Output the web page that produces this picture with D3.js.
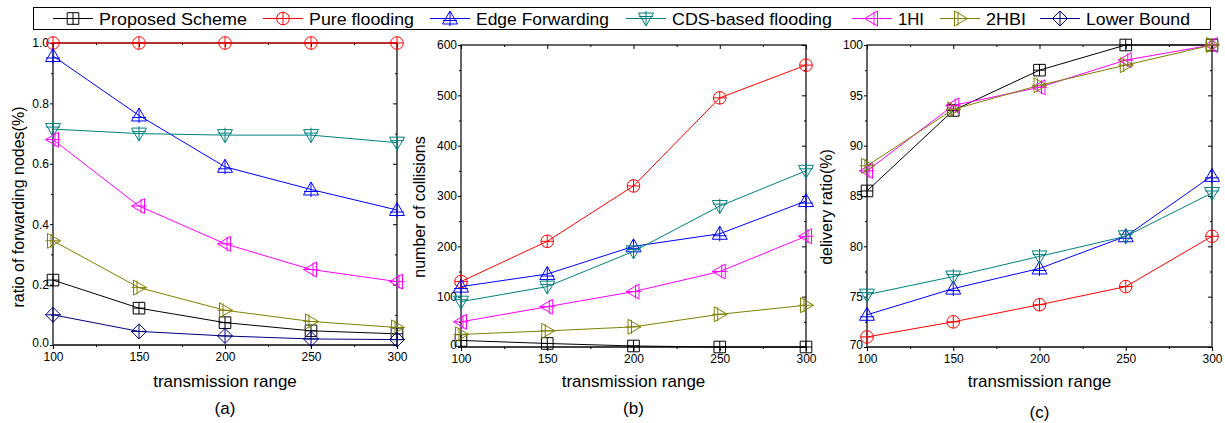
<!DOCTYPE html>
<html>
<head>
<meta charset="utf-8">
<script src="https://d3js.org/d3.v7.min.js"></script>
<style>
  body { margin: 0; background: #fff; }
  text { font-family: Arial, "Liberation Sans", sans-serif; }
</style>
</head>
<body>
<script>
// transmission range (x axis shared by all panels)
var ranges = [100, 150, 200, 250, 300];

var seriesNames = ['Proposed Scheme', 'Pure flooding', 'Edge Forwarding', 'CDS-based flooding', '1HI', '2HBI', 'Lower Bound'];
var seriesColors = ['#000000', '#ff0000', '#0000ff', '#008080', '#ff00ff', '#808000', '#000080'];
var seriesMarkers = ['square', 'circle', 'up', 'down', 'left', 'right', 'diamond'];

// (a) ratio of forwarding nodes
var ratioProposed = [0.215, 0.122, 0.074, 0.047, 0.037];
var ratioPure = [1.0, 1.0, 1.0, 1.0, 1.0];
var ratioEdge = [0.957, 0.76, 0.59, 0.515, 0.447];
var ratioCDS = [0.715, 0.70, 0.695, 0.695, 0.67];
var ratio1HI = [0.68, 0.46, 0.335, 0.25, 0.21];
var ratio2HBI = [0.345, 0.19, 0.115, 0.078, 0.058];
var ratioLower = [0.10, 0.045, 0.03, 0.02, 0.018];

// (b) number of collisions
var collProposed = [13, 7, 2, 0, 0];
var collPure = [130, 210, 320, 495, 560];
var collEdge = [120, 145, 200, 225, 290];
var collCDS = [90, 120, 190, 280, 350];
var coll1HI = [50, 80, 110, 150, 220];
var coll2HBI = [25, 32, 40, 65, 83];

// (c) delivery ratio
var delivProposed = [85.5, 93.5, 97.5, 100, 100];
var delivPure = [71, 72.5, 74.2, 76, 81];
var delivEdge = [73.2, 75.8, 77.8, 81, 87];
var delivCDS = [75.2, 77, 79, 81, 85.3];
var deliv1HI = [87.5, 94, 95.8, 98.5, 100];
var deliv2HBI = [88, 93.6, 96, 98, 100];

var panels = [
  { left: 53, right: 397, top: 43, bottom: 345, yDomain: [0, 1], yTicks: [0, 0.2, 0.4, 0.6, 0.8, 1.0], yMinor: [0.1, 0.3, 0.5, 0.7, 0.9],
    fmt: d3.format('.1f'), yTitle: 'ratio of forwarding nodes(%)', yTitleX: 18, tag: '(a)', tagY: 408,
    series: [ratioProposed, ratioPure, ratioEdge, ratioCDS, ratio1HI, ratio2HBI, ratioLower] },
  { left: 461, right: 806, top: 45, bottom: 347, yDomain: [0, 600], yTicks: [0, 100, 200, 300, 400, 500, 600], yMinor: [50, 150, 250, 350, 450, 550],
    fmt: d3.format('d'), yTitle: 'number of collisions', yTitleX: 419, tag: '(b)', tagY: 408,
    series: [collProposed, collPure, collEdge, collCDS, coll1HI, coll2HBI, null] },
  { left: 867, right: 1212, top: 45, bottom: 347, yDomain: [70, 100], yTicks: [70, 75, 80, 85, 90, 95, 100], yMinor: [72.5, 77.5, 82.5, 87.5, 92.5, 97.5],
    fmt: d3.format('d'), yTitle: 'delivery ratio(%)', yTitleX: 826, tag: '(c)', tagY: 412,
    series: [delivProposed, delivPure, delivEdge, delivCDS, deliv1HI, deliv2HBI, null] }
];

var svg = d3.select('body').append('svg').attr('width', 1225).attr('height', 423);

function markerPath(type) {
  switch (type) {
    case 'square': return 'M-5.8,-5.8H5.8V5.8H-5.8Z M0,-5.8V5.8 M-5.8,0H5.8';
    case 'circle': return 'M-6.3,0A6.3,6.3 0 1,0 6.3,0A6.3,6.3 0 1,0 -6.3,0Z M0,-6.3V6.3 M-6.3,0H6.3';
    case 'up': return 'M0,-7.5L7.5,5.5H-7.5Z M0,-7.5V7.5 M-7,2H7';
    case 'down': return 'M0,7.5L7.5,-5.5H-7.5Z M0,-7.5V7.5 M-7,-2H7';
    case 'left': return 'M-7.5,0L5.5,-7.5V7.5Z M-7.5,0H7.5 M2,-7V7';
    case 'right': return 'M7.5,0L-5.5,-7.5V7.5Z M-7.5,0H7.5 M-2,-7V7';
    case 'diamond': return 'M0,-7.5L7.5,0L0,7.5L-7.5,0Z M0,-7.5V7.5 M-7.5,0H7.5';
  }
  return '';
}

panels.forEach(function (p) {
  var x = d3.scaleLinear().domain([100, 300]).range([p.left, p.right]);
  var y = d3.scaleLinear().domain(p.yDomain).range([p.bottom, p.top]);
  var g = svg.append('g');

  // frame
  g.append('rect').attr('x', p.left).attr('y', p.top).attr('width', p.right - p.left).attr('height', p.bottom - p.top)
    .attr('fill', 'none').attr('stroke', '#000').attr('stroke-width', 1.2);
  g.append('line').attr('x1', p.left).attr('x2', p.right).attr('y1', p.bottom).attr('y2', p.bottom)
    .attr('stroke', '#444').attr('stroke-width', 1.8);

  var xMinor = [125, 175, 225, 275];

  // bottom axis (outward ticks)
  g.append('g').attr('transform', 'translate(0,' + p.bottom + ')')
    .call(d3.axisBottom(x).tickValues(ranges).tickSize(4).tickPadding(3).tickFormat(d3.format('d')));
  g.append('g').attr('transform', 'translate(0,' + p.bottom + ')')
    .call(d3.axisBottom(x).tickValues(xMinor).tickSize(2).tickFormat(''));
  // left axis (outward ticks)
  g.append('g').attr('class', 'yax').attr('transform', 'translate(' + p.left + ',0)')
    .call(d3.axisLeft(y).tickValues(p.yTicks).tickSize(3).tickPadding(1).tickFormat(p.fmt));
  g.append('g').attr('transform', 'translate(' + p.left + ',0)')
    .call(d3.axisLeft(y).tickValues(p.yMinor).tickSize(2).tickFormat(''));
  // top and right (inward ticks)
  g.append('g').attr('transform', 'translate(0,' + p.top + ')')
    .call(d3.axisTop(x).tickValues(ranges).tickSize(-4).tickFormat(''));
  g.append('g').attr('transform', 'translate(0,' + p.top + ')')
    .call(d3.axisTop(x).tickValues(xMinor).tickSize(-2).tickFormat(''));
  g.append('g').attr('transform', 'translate(' + p.right + ',0)')
    .call(d3.axisRight(y).tickValues(p.yTicks).tickSize(-4).tickFormat(''));
  g.append('g').attr('transform', 'translate(' + p.right + ',0)')
    .call(d3.axisRight(y).tickValues(p.yMinor).tickSize(-2).tickFormat(''));

  g.selectAll('.domain').remove();
  g.selectAll('.tick line').attr('stroke', '#000');
  g.selectAll('.tick text').attr('font-size', 12).attr('fill', '#000')
    .style('font-family', 'Arial, "Liberation Sans", sans-serif');
  // lift the bottom y label a little so it clears the x labels
  g.selectAll('.yax .tick text').filter(function (d) { return d === p.yDomain[0]; }).attr('dy', '0.1em');

  // titles
  g.append('text').attr('x', (p.left + p.right) / 2).attr('y', 381).attr('dy', '0.35em').attr('text-anchor', 'middle')
    .attr('font-size', 17).text('transmission range');
  g.append('text').attr('transform', 'translate(' + p.yTitleX + ',207) rotate(-90)')
    .attr('dy', '0.35em').attr('text-anchor', 'middle').attr('font-size', 16).text(p.yTitle);
  g.append('text').attr('x', (p.left + p.right) / 2).attr('y', p.tagY).attr('text-anchor', 'middle')
    .attr('dy', '0.35em').attr('font-size', 17).text(p.tag);

  var line = d3.line().x(function (d, i) { return x(ranges[i]); }).y(function (d) { return y(d); });

  p.series.forEach(function (vals, si) {
    if (!vals) return;
    g.append('path').datum(vals).attr('d', line).attr('fill', 'none')
      .attr('stroke', seriesColors[si]).attr('stroke-width', 1);
    g.selectAll('.m' + si).data(vals).enter().append('path')
      .attr('transform', function (d, i) { return 'translate(' + x(ranges[i]) + ',' + y(d) + ')'; })
      .attr('d', markerPath(seriesMarkers[si]))
      .attr('fill', 'none').attr('stroke', seriesColors[si]).attr('stroke-width', 1);
  });
});

// legend
var legend = svg.append('g');
legend.append('rect').attr('x', 33.5).attr('y', 7.5).attr('width', 1177).attr('height', 22)
  .attr('fill', '#fff').attr('stroke', '#000').attr('stroke-width', 1);
var legendX = [53, 263, 430, 626, 852, 940, 1040];
var legendTextW = [148, 105, 133, 160, 26, 40, 104];
seriesNames.forEach(function (name, i) {
  var lg = legend.append('g').attr('transform', 'translate(' + legendX[i] + ',18.5)');
  lg.append('line').attr('x1', 0).attr('x2', 40).attr('stroke', seriesColors[i]).attr('stroke-width', 1);
  lg.append('path').attr('transform', 'translate(20,0)').attr('d', markerPath(seriesMarkers[i]))
    .attr('fill', 'none').attr('stroke', seriesColors[i]);
  lg.append('text').attr('x', 46).attr('dy', '0.36em').attr('font-size', 17)
    .attr('textLength', legendTextW[i]).attr('lengthAdjust', 'spacingAndGlyphs').text(name);
});
</script>
</body>
</html>
